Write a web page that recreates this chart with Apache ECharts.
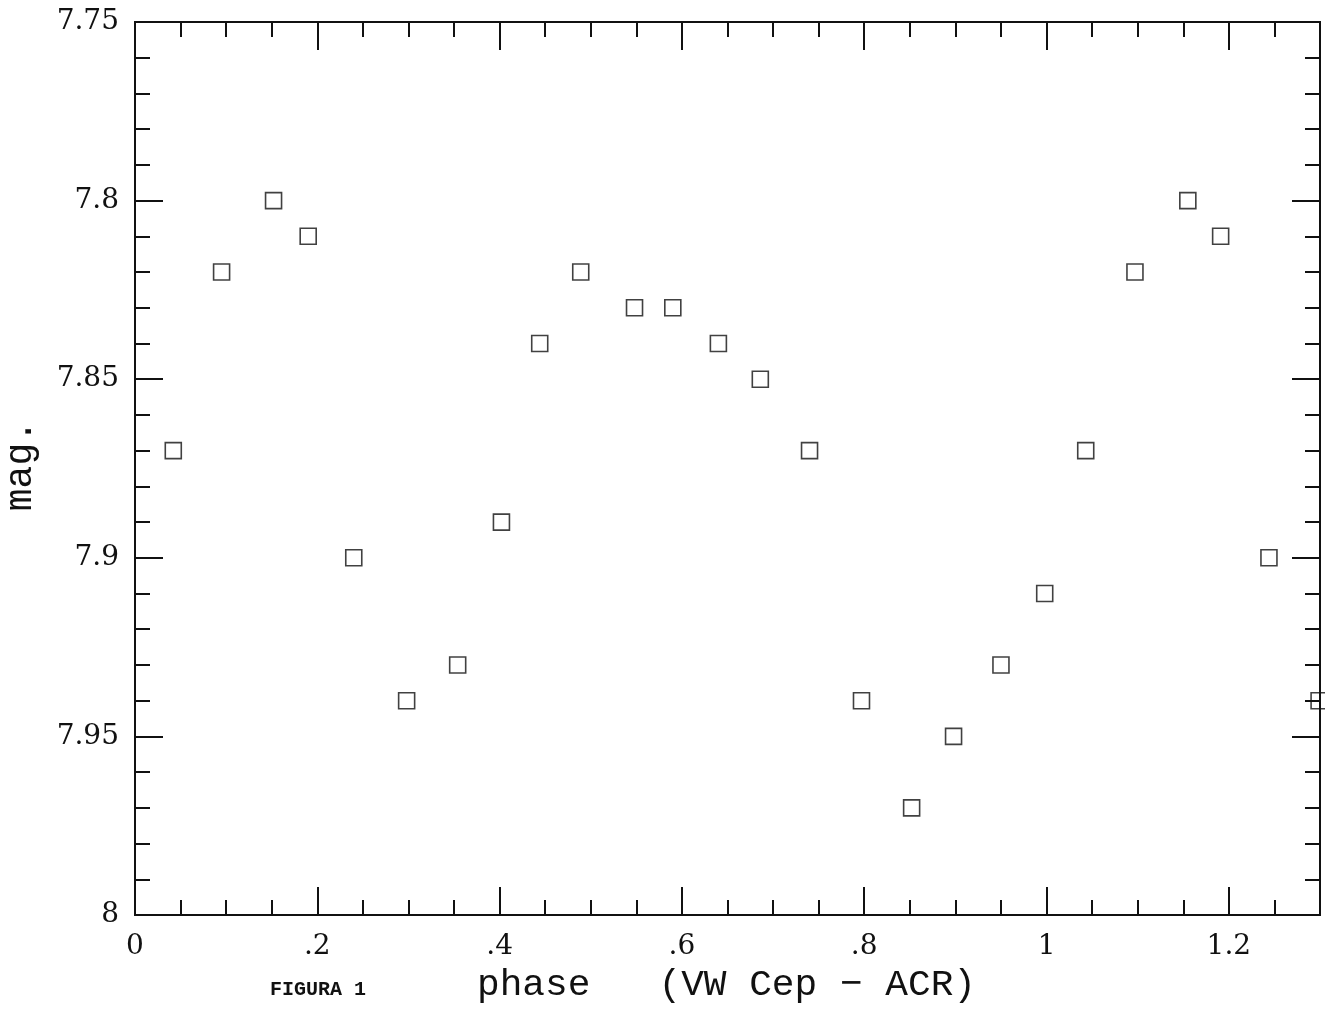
<!DOCTYPE html>
<html>
<head>
<meta charset="utf-8">
<script src="https://cdn.jsdelivr.net/npm/echarts@6/dist/echarts.min.js"></script>
<style>
    html, body { margin: 0; padding: 0; background: #fff; }
    #chart { width: 1325px; height: 1010px; }
</style>
</head>
<body>
<div id="chart"></div>
<script>
// phase / mag (second cycle repeats the first at phase + 1)
const phase = [0.042, 0.095, 0.152, 0.190, 0.240, 0.298, 0.354, 0.402, 0.444, 0.489,
    0.548, 0.590, 0.640, 0.686, 0.740, 0.797, 0.852, 0.898, 0.950, 0.998,
    1.043, 1.097, 1.155, 1.191, 1.244, 1.299];
const mag = [7.87, 7.82, 7.80, 7.81, 7.90, 7.94, 7.93, 7.89, 7.84, 7.82,
    7.83, 7.83, 7.84, 7.85, 7.87, 7.94, 7.97, 7.95, 7.93, 7.91,
    7.87, 7.82, 7.80, 7.81, 7.90, 7.94];

const xMin = 0, xMax = 1.3, xMajor = 0.2, xMinor = 0.05;
const yMin = 7.75, yMax = 8, yMajor = 0.05;

const monoFont = '"Liberation Mono", "DejaVu Sans Mono", monospace';
const labelFont = '"DejaVu Serif", serif';

let points = phase.map((p, i) => [p, mag[i]]);

const fmtX = (v) => {
    let s = String(+v.toFixed(2));
    return s.replace(/^0\./, '.');
};
const fmtY = (v) => String(+v.toFixed(2));

const xAxisBase = (pos, interval, tickLen, showLabel) => ({
    type: 'value',
    position: pos,
    min: xMin,
    max: xMax,
    interval: interval,
    splitLine: { show: false },
    axisLine: { show: true, onZero: false, lineStyle: { color: '#111', width: 2 } },
    axisTick: { show: true, inside: true, length: tickLen, lineStyle: { color: '#111', width: 2 } },
    axisLabel: {
        show: showLabel,
        showMaxLabel: false,
        margin: 18,
        formatter: fmtX,
        color: '#111',
        fontFamily: labelFont,
        fontSize: 28,
    },
});

const yAxisBase = (pos, showLabel) => ({
    type: 'value',
    position: pos,
    inverse: true,
    min: yMin,
    max: yMax,
    interval: yMajor,
    splitLine: { show: false },
    axisLine: { show: true, onZero: false, lineStyle: { color: '#111', width: 2 } },
    axisTick: { show: true, inside: true, length: 28, lineStyle: { color: '#111', width: 2 } },
    minorTick: { show: true, splitNumber: 5, length: 15, lineStyle: { color: '#111', width: 2 } },
    minorSplitLine: { show: false },
    axisLabel: {
        show: showLabel,
        margin: 16,
        formatter: fmtY,
        color: '#111',
        fontFamily: labelFont,
        fontSize: 28,
    },
});

var chartDom = document.getElementById('chart');
var myChart = echarts.init(chartDom, null, { renderer: 'canvas' });
var option;

option = {
    backgroundColor: '#fff',
    animation: false,
    grid: { left: 135, right: 5, top: 22, bottom: 95, containLabel: false },
    xAxis: [
        xAxisBase('bottom', xMajor, 28, true),
        xAxisBase('bottom', xMinor, 15, false),
        xAxisBase('top', xMajor, 28, false),
        xAxisBase('top', xMinor, 15, false),
    ],
    yAxis: [
        yAxisBase('left', true),
        yAxisBase('right', false),
    ],
    graphic: [
        {
            type: 'text',
            left: 2,
            top: 420,
            rotation: Math.PI / 2,
            originX: 0,
            style: {
                text: 'mag.',
                x: 0, y: 0,
                fill: '#111',
                font: '38px ' + monoFont,
            },
        },
        {
            type: 'text',
            left: 477,
            top: 966,
            style: {
                text: 'phase   (VW Cep \u2212 ACR)',
                fill: '#111',
                font: '37.8px ' + monoFont,
            },
        },
        {
            type: 'text',
            left: 270,
            top: 980,
            style: {
                text: 'FIGURA 1',
                fill: '#111',
                font: 'bold 20px ' + monoFont,
            },
        },
    ],
    series: [
        {
            type: 'scatter',
            xAxisIndex: 0,
            yAxisIndex: 0,
            data: points,
            symbol: 'rect',
            symbolSize: 16,
            clip: false,
            itemStyle: {
                color: 'rgba(0,0,0,0)',
                borderColor: '#111',
                borderWidth: 1.6,
            },
        },
    ],
};
option && myChart.setOption(option);
</script>
</body>
</html>
